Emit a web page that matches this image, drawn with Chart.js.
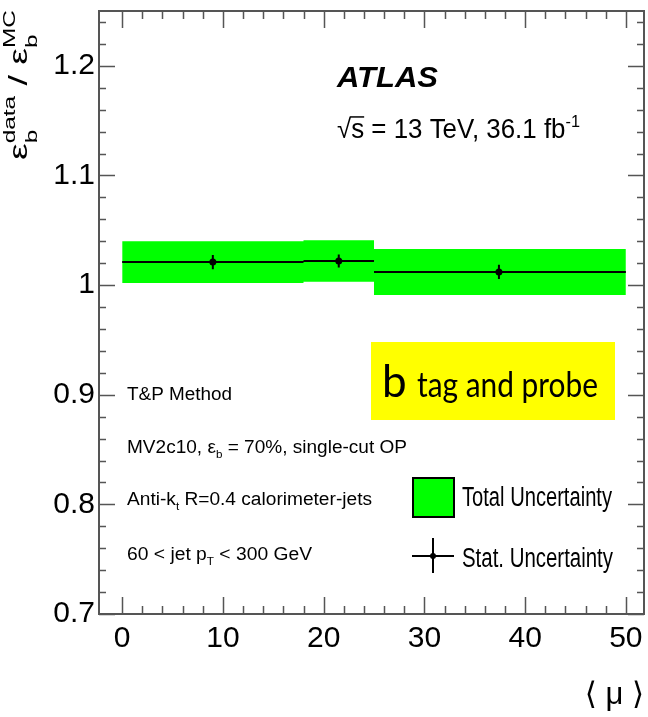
<!DOCTYPE html>
<html>
<head>
<meta charset="utf-8">
<script src="https://cdn.jsdelivr.net/npm/chart.js@4.4.0/dist/chart.umd.min.js"></script>
<style>
    html, body { margin: 0; padding: 0; background: #fff; }
    #wrap { width: 648px; height: 717px; }
</style>
</head>
<body>
<div id="wrap"><canvas id="sfChart" width="648" height="717"></canvas></div>
<script>
// <mu> bins and b-tag scale factors (data/MC)
const binEdges = [0, 18, 25, 50];
const muCentres = [9.0, 21.5, 37.4];
const sfValues = [1.021, 1.022, 1.012];
const totalErr = [0.019, 0.019, 0.021];
const statErr = [0.0065, 0.006, 0.0065];

// axis ticks
const xTickValues = [0, 10, 20, 30, 40, 50];
const yTickValues = [0.7, 0.8, 0.9, 1.0, 1.1, 1.2];
const yTickLabels = ['0.7', '0.8', '0.9', '1', '1.1', '1.2'];

const FONT = '"Liberation Sans", Arial, sans-serif';

// build step outline for the uncertainty band
function stepLine(vals) {
    const pts = [];
    vals.forEach((v, i) => {
        pts.push({x: binEdges[i], y: v}, {x: binEdges[i + 1], y: v});
    });
    return pts;
}

const bandUp = stepLine(sfValues.map((v, i) => v + totalErr[i]));
const bandDown = stepLine(sfValues.map((v, i) => v - totalErr[i]));

const centralLines = [];
sfValues.forEach((v, i) => {
    centralLines.push({x: binEdges[i], y: v}, {x: binEdges[i + 1], y: v}, {x: binEdges[i + 1], y: null});
});

const statBars = [];
muCentres.forEach((m, i) => {
    statBars.push({x: m, y: sfValues[i] - statErr[i]}, {x: m, y: sfValues[i] + statErr[i]}, {x: m, y: null});
});

const markers = muCentres.map((m, i) => ({x: m, y: sfValues[i]}));

// text with sub/superscripts, optionally squeezed to a width
function drawRich(ctx, segs, x, y, o) {
    const size = o.size;
    const fam = o.family || FONT;
    const main = (o.style || '') + ' ' + size + 'px ' + fam;
    const scr = (o.style || '') + ' ' + Math.round(size * (o.scriptRatio || 0.62)) + 'px ' + fam;
    const widths = segs.map(s => {
        ctx.font = main;
        const w = ctx.measureText(s.t).width;
        ctx.font = scr;
        const ws = Math.max(s.sub ? ctx.measureText(s.sub).width : 0, s.sup ? ctx.measureText(s.sup).width : 0);
        return [w, ws];
    });
    const total = widths.reduce((acc, w) => acc + w[0] + w[1], 0);
    const sx = o.width ? o.width / total : 1;
    ctx.save();
    ctx.translate(x, y);
    ctx.scale(sx, o.sy || 1);
    ctx.fillStyle = o.color || '#000';
    ctx.textAlign = 'left';
    ctx.textBaseline = 'alphabetic';
    let cx = 0;
    segs.forEach((s, i) => {
        ctx.font = main;
        ctx.fillText(s.t, cx, 0);
        if (s.over) {
            ctx.strokeStyle = ctx.fillStyle;
            ctx.lineWidth = 1.5;
            ctx.beginPath();
            ctx.moveTo(cx - 1, -size * 0.78);
            ctx.lineTo(cx + widths[i][0], -size * 0.78);
            ctx.stroke();
        }
        cx += widths[i][0];
        ctx.font = scr;
        if (s.sub) ctx.fillText(s.sub, cx, size * (o.subDy || 0.3));
        if (s.sup) ctx.fillText(s.sup, cx, -size * (o.supDy || 0.42));
        cx += widths[i][1];
    });
    ctx.restore();
}

// ATLAS style frame, inward ticks, labels and legend
const atlasDecor = {
    id: 'atlasDecor',
    afterDraw(chart) {
        const {ctx, chartArea: a, scales: {x, y}} = chart;
        ctx.save();

        // frame
        ctx.strokeStyle = '#555';
        ctx.lineWidth = 2;
        ctx.strokeRect(a.left, a.top, a.right - a.left, a.bottom - a.top);

        // inward ticks
        ctx.lineWidth = 1.5;
        ctx.beginPath();
        for (let v = 0; v <= 50.001; v += 2) {
            const px = Math.round(x.getPixelForValue(v)) + 0.5;
            const len = Math.round(v) % 10 === 0 ? 17 : 8;
            ctx.moveTo(px, a.bottom); ctx.lineTo(px, a.bottom - len);
            ctx.moveTo(px, a.top); ctx.lineTo(px, a.top + len);
        }
        for (let k = 35; k <= 62; k++) {
            const py = Math.round(y.getPixelForValue(k * 0.02)) + 0.5;
            const len = k % 5 === 0 ? 16 : 7;
            ctx.moveTo(a.left, py); ctx.lineTo(a.left + len, py);
            ctx.moveTo(a.right, py); ctx.lineTo(a.right - len, py);
        }
        ctx.stroke();

        // y axis title, rotated
        ctx.save();
        ctx.translate(27, 160);
        ctx.rotate(-Math.PI / 2);
        drawRich(ctx, [{t: 'ε', sub: 'b', sup: 'data'}, {t: ' / ε', sub: 'b', sup: 'MC'}], 0, 0,
            {size: 26, scriptRatio: 0.66, subDy: 0.38, supDy: 0.48, width: 150});
        ctx.restore();

        // ATLAS label
        drawRich(ctx, [{t: 'ATLAS'}], 337, 87, {size: 30, style: 'italic bold', width: 101});
        drawRich(ctx, [{t: '√'}, {t: 's', over: true}, {t: ' = 13 TeV, 36.1 fb', sup: '-1'}], 337, 138,
            {size: 27, width: 243});

        // selection text
        drawRich(ctx, [{t: 'T&P Method'}], 127, 400, {size: 18, width: 105});
        drawRich(ctx, [{t: 'MV2c10, ε', sub: 'b'}, {t: ' = 70%, single-cut OP'}], 127, 453, {size: 18, width: 280});
        drawRich(ctx, [{t: 'Anti-k', sub: 't'}, {t: ' R=0.4 calorimeter-jets'}], 127, 505, {size: 18, width: 245});
        drawRich(ctx, [{t: '60 < jet p', sub: 'T'}, {t: ' < 300 GeV'}], 127, 560, {size: 18, width: 185});

        // yellow label box
        ctx.fillStyle = '#ffff00';
        ctx.fillRect(371, 342, 244, 78);
        drawRich(ctx, [{t: 'b'}], 382, 397, {size: 44, family: 'Lato, "Open Sans", sans-serif'});
        drawRich(ctx, [{t: 'tag and probe'}], 417, 397, {size: 33, family: 'Lato, "Open Sans", sans-serif', width: 181, sy: 1.08});

        // legend: total uncertainty box
        ctx.fillStyle = '#00ff00';
        ctx.fillRect(413, 478, 41, 39);
        ctx.strokeStyle = '#000';
        ctx.lineWidth = 2;
        ctx.strokeRect(413, 478, 41, 39);
        drawRich(ctx, [{t: 'Total Uncertainty'}], 462, 506, {size: 27, width: 150});

        // legend: stat uncertainty marker
        ctx.beginPath();
        ctx.moveTo(412, 556); ctx.lineTo(454, 556);
        ctx.moveTo(433, 538); ctx.lineTo(433, 573);
        ctx.stroke();
        ctx.fillStyle = '#000';
        ctx.beginPath();
        ctx.arc(433, 556, 3, 0, Math.PI * 2);
        ctx.fill();
        drawRich(ctx, [{t: 'Stat. Uncertainty'}], 462, 567, {size: 27, width: 151});

        ctx.restore();
    }
};

new Chart(document.getElementById('sfChart'), {
    type: 'line',
    data: {
        datasets: [{
            label: 'markers',
            data: markers,
            showLine: false,
            pointRadius: 3.5,
            pointBackgroundColor: '#000',
            pointBorderWidth: 0
        }, {
            label: 'Stat. Uncertainty',
            data: statBars,
            borderColor: '#000',
            borderWidth: 2,
            pointRadius: 0,
            spanGaps: false
        }, {
            label: 'central',
            data: centralLines,
            borderColor: '#000',
            borderWidth: 2,
            pointRadius: 0,
            spanGaps: false
        }, {
            label: 'Total Uncertainty',
            data: bandUp,
            borderWidth: 0,
            pointRadius: 0,
            backgroundColor: '#00ff00',
            fill: '+1'
        }, {
            label: 'band low',
            data: bandDown,
            borderWidth: 0,
            pointRadius: 0,
            fill: false
        }]
    },
    options: {
        responsive: false,
        animation: false,
        events: [],
        layout: {
            padding: {top: 11, right: 3, left: 0, bottom: 0}
        },
        plugins: {
            legend: {display: false},
            tooltip: {enabled: false}
        },
        scales: {
            x: {
                type: 'linear',
                min: -2.3,
                max: 51.8,
                afterBuildTicks: s => { s.ticks = xTickValues.map(v => ({value: v})); },
                afterFit: s => { s.height = 103; s.paddingLeft = 0; s.paddingRight = 0; },
                grid: {display: false, drawTicks: false},
                border: {display: false},
                ticks: {
                    color: '#000',
                    font: {family: FONT, size: 30},
                    padding: 7,
                    maxRotation: 0,
                    autoSkip: false
                },
                title: {
                    display: true,
                    text: '⟨ μ ⟩',
                    align: 'end',
                    color: '#000',
                    font: {family: '"Liberation Sans", "DejaVu Sans", sans-serif', size: 31},
                    padding: {top: 0, bottom: 3}
                }
            },
            y: {
                type: 'linear',
                min: 0.7,
                max: 1.25,
                afterBuildTicks: s => { s.ticks = yTickValues.map(v => ({value: v})); },
                afterFit: s => { s.width = 99; s.paddingTop = 0; s.paddingBottom = 0; },
                grid: {display: false, drawTicks: false},
                border: {display: false},
                ticks: {
                    color: '#000',
                    font: {family: FONT, size: 30},
                    padding: 4,
                    callback: (v, i) => yTickLabels[i]
                }
            }
        }
    },
    plugins: [atlasDecor]
});
</script>
</body>
</html>
